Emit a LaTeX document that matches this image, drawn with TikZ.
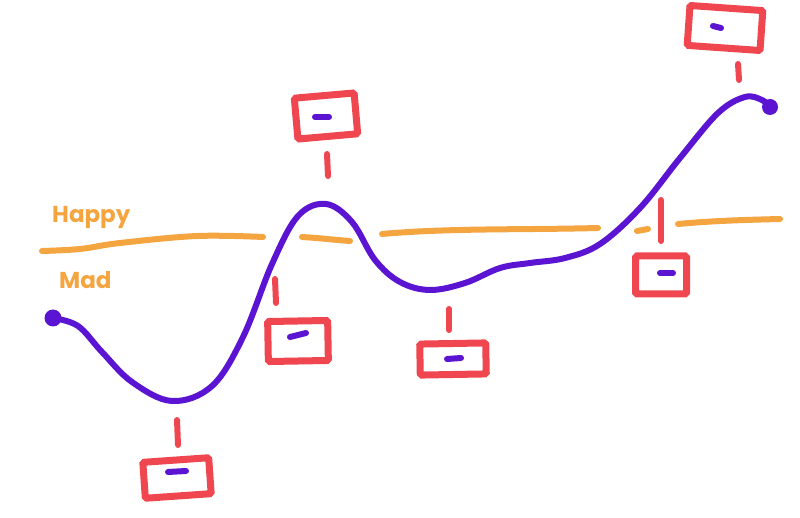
\documentclass[tikz,border=0pt]{standalone}
\usepackage{fontspec}
\setmainfont{Poppins}
\usetikzlibrary{calc}
\definecolor{jred}{HTML}{EF4650}
\definecolor{jpurple}{HTML}{5A14D2}
\definecolor{jorange}{HTML}{F5A540}
\tikzset{
  curve/.style={draw=jpurple, line width=6pt, line cap=round, line join=round},
  mood/.style={draw=jorange, line width=6pt, line cap=round},
  moodtext/.style={text=jorange, font=\bfseries\fontsize{23}{23}\selectfont, inner sep=0pt},
  card/.style={draw=jred, line width=7pt, rectangle, rounded corners=1.5pt, inner sep=0pt, fill=white},
  tick/.style={draw=jred, line width=6pt, line cap=round},
  dashline/.style={draw=jpurple, line width=6pt, line cap=round},
}
\begin{document}
\begin{tikzpicture}[x=1pt,y=-1pt]
\useasboundingbox (0,0) rectangle (800,518);

% mood line
\coordinate (o1) at (42,251);
\coordinate (o2) at (263,237);
\coordinate (o3) at (302,237);
\coordinate (o4) at (350,241);
\coordinate (o5) at (382,234);
\coordinate (o6) at (598,228);
\coordinate (o7) at (637,231);
\coordinate (o8) at (648,229);
\coordinate (o9) at (678,224);
\coordinate (o10) at (780,219);
\draw[mood] plot[smooth, tension=0.6] coordinates {(o1) (80,249) (120,243) (197,236) (o2)};
\draw[mood] (o3) .. controls (320,238) and (335,240) .. (o4);
\draw[mood] (o5) .. controls (450,228) and (520,230) .. (o6);
\draw[mood] (o7) -- (o8);
\draw[mood] (o9) .. controls (710,221) and (740,220) .. (o10);

\node[moodtext, anchor=west] (happy) at (52,217) {Happy};
\node[moodtext, anchor=west] (mad) at (59,280) {Mad};

% journey curve
\coordinate (start) at (53,318);
\coordinate (finish) at (770,107);
\draw[curve] plot[smooth, tension=0.6] coordinates {
  (start) (78,326) (102,352) (132,382) (172,401) (212,386) (243,337)
  (272,264) (298,216) (326,204) (352,222) (375,260) (400,282) (430,290)
  (465,283) (500,268) (530,263) (565,258) (600,244) (640,208) (680,158)
  (718,113) (745,97) (762,100) (finish)};
\fill[jpurple] (start) circle (8.5);
\fill[jpurple] (finish) circle (8);

% cards
\node[card, minimum width=66pt, minimum height=36pt, rotate=4] (b1) at (177,478) {};
\node[card, minimum width=60pt, minimum height=40pt, rotate=1] (b2) at (298,341) {};
\node[card, minimum width=60pt, minimum height=41pt, rotate=5] (b3) at (326,116) {};
\node[card, minimum width=66pt, minimum height=31pt, rotate=1] (b4) at (453,359) {};
\node[card, minimum width=51pt, minimum height=38pt, rotate=0] (b5) at (661,275) {};
\node[card, minimum width=73pt, minimum height=40pt, rotate=-4] (b6) at (725,28) {};

% ticks
\coordinate (t1a) at (177,420); \coordinate (t1b) at (178,445);
\coordinate (t2a) at (275,279); \coordinate (t2b) at (276,303);
\coordinate (t3a) at (327,154); \coordinate (t3b) at (328,176);
\coordinate (t4a) at (449,309); \coordinate (t4b) at (449,330);
\coordinate (t5a) at (661,200); \coordinate (t5b) at (661,241);
\coordinate (t6a) at (738,64);  \coordinate (t6b) at (739,80);
\draw[tick] (t1a) -- (t1b);
\draw[tick] (t2a) -- (t2b);
\draw[tick] (t3a) -- (t3b);
\draw[tick] (t4a) -- (t4b);
\draw[tick] (t5a) -- (t5b);
\draw[tick] (t6a) -- (t6b);

% purple marks in cards
\draw[dashline] ($(b1)+(-9,-6)$) -- ++(18,-1);
\draw[dashline] ($(b2)+(-8,-4)$) -- ++(16,-4);
\draw[dashline] ($(b3)+(-11,1)$) -- ++(14,0);
\draw[dashline] ($(b4)+(-6,0)$) -- ++(14,-1);
\draw[dashline] ($(b5)+(-1,-2)$) -- ++(13,0);
\draw[dashline] ($(b6)+(-12,-2)$) -- ++(8,2);
\end{tikzpicture}
\end{document}
